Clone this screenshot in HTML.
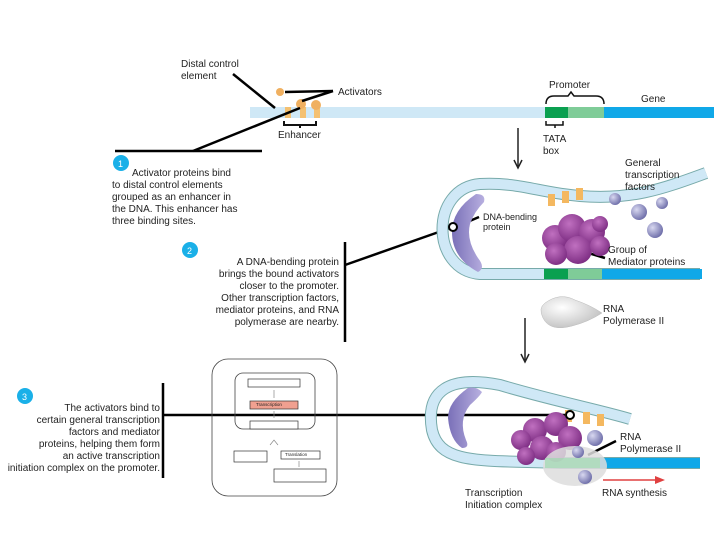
<!DOCTYPE html>
<html><head><meta charset="utf-8"><style>
html,body{margin:0;padding:0;background:#fff;}
svg{display:block;font-family:"Liberation Sans",sans-serif;}
</style></head><body>
<svg width="720" height="540" viewBox="0 0 720 540" xmlns="http://www.w3.org/2000/svg">
<defs>
<radialGradient id="pu" cx="0.4" cy="0.35" r="0.7"><stop offset="0" stop-color="#c070c0"/><stop offset="1" stop-color="#7a2a80"/></radialGradient>
<radialGradient id="bl" cx="0.35" cy="0.35" r="0.7"><stop offset="0" stop-color="#d8d8f0"/><stop offset="1" stop-color="#6c6ca8"/></radialGradient>
<radialGradient id="gr" cx="0.35" cy="0.35" r="0.8"><stop offset="0" stop-color="#ffffff"/><stop offset="1" stop-color="#b8b8b8"/></radialGradient>
<linearGradient id="vp" x1="0" x2="1"><stop offset="0" stop-color="#7a70b8"/><stop offset="1" stop-color="#b8b0e0"/></linearGradient>
</defs>
<g font-size="10" fill="#222">
<rect x="250" y="107" width="295" height="11" fill="#cfe8f6"/>
<rect x="545" y="107" width="23" height="11" fill="#0aa050"/>
<rect x="568" y="107" width="36" height="11" fill="#7fcc98"/>
<rect x="604" y="107" width="110" height="11" fill="#10a8e8"/>
<rect x="285" y="107" width="6" height="11" fill="#f4c070"/><rect x="300" y="107" width="6" height="11" fill="#f4c070"/><rect x="314" y="107" width="6" height="11" fill="#f4c070"/>
<circle cx="280" cy="92" r="4" fill="#f0b060"/><circle cx="301" cy="104" r="5" fill="#f0b060"/><circle cx="316" cy="105" r="5" fill="#f0b060"/>
<path d="M284 121 v4 h32 v-4 M300 125 v3" fill="none" stroke="#111" stroke-width="2"/>
<path d="M546 104 q0-8 8-8 h14 l3-4 l3 4 h22 q8 0 8 8" fill="none" stroke="#111" stroke-width="1.5"/>
<path d="M546 121 v4 h17 v-4 M555 125 v3" fill="none" stroke="#111" stroke-width="1.5"/>
<text x="181" y="67">Distal control</text><text x="181" y="79">element</text>
<text x="338" y="95">Activators</text>
<text x="549" y="88">Promoter</text>
<text x="641" y="102">Gene</text>
<text x="278" y="138">Enhancer</text>
<text x="543" y="142">TATA</text><text x="543" y="154">box</text>
<g stroke="#000" stroke-width="2.5" fill="none">
<line x1="233" y1="74" x2="275" y2="108"/>
<line x1="285" y1="92" x2="333" y2="91"/><line x1="302" y1="101" x2="333" y2="91"/>
<line x1="115" y1="151" x2="262" y2="151"/><line x1="193" y1="151" x2="300" y2="108"/>
<line x1="345" y1="242" x2="345" y2="342"/><line x1="345" y1="265" x2="453" y2="227"/>
<line x1="163" y1="383" x2="163" y2="478"/><line x1="163" y1="415" x2="570" y2="415"/>
<line x1="465" y1="223" x2="479" y2="217"/>
<line x1="585" y1="252" x2="605" y2="258"/>
<line x1="588" y1="455" x2="616" y2="441"/>
</g>
<line x1="518" y1="128" x2="518" y2="166" stroke="#222" stroke-width="1.5"/><path d="M514 160 L518 168 L522 160" fill="none" stroke="#222" stroke-width="1.5"/>
<line x1="525" y1="318" x2="525" y2="360" stroke="#222" stroke-width="1.5"/><path d="M521 354 L525 362 L529 354" fill="none" stroke="#222" stroke-width="1.5"/>
<circle cx="121" cy="163" r="8" fill="#1ab0e8"/><text x="118" y="167" fill="#fff" font-size="9">1</text>
<text x="132" y="176">Activator proteins bind</text>
<text x="112" y="188">to distal control elements</text>
<text x="112" y="200">grouped as an enhancer in</text>
<text x="112" y="212">the DNA. This enhancer has</text>
<text x="112" y="224">three binding sites.</text>
<circle cx="190" cy="250" r="8" fill="#1ab0e8"/><text x="187" y="254" fill="#fff" font-size="9">2</text>
<g text-anchor="end">
<text x="339" y="265">A DNA-bending protein</text>
<text x="339" y="277">brings the bound activators</text>
<text x="339" y="289">closer to the promoter.</text>
<text x="339" y="301">Other transcription factors,</text>
<text x="339" y="313">mediator proteins, and RNA</text>
<text x="339" y="325">polymerase are nearby.</text>
<text x="160" y="411">The activators bind to</text>
<text x="160" y="423">certain general transcription</text>
<text x="160" y="435">factors and mediator</text>
<text x="160" y="447">proteins, helping them form</text>
<text x="160" y="459">an active transcription</text>
<text x="160" y="471">initiation complex on the promoter.</text>
</g>
<circle cx="25" cy="396" r="8" fill="#1ab0e8"/><text x="22" y="400" fill="#fff" font-size="9">3</text>
<!-- middle DNA loop -->
<path d="M706 173 C660 190 630 200 580 196 C540 193 520 182 480 184 C430 188 430 270 480 274 L700 274" fill="none" stroke="#7aa" stroke-width="12"/>
<path d="M706 173 C660 190 630 200 580 196 C540 193 520 182 480 184 C430 188 430 270 480 274 L700 274" fill="none" stroke="#cfe8f6" stroke-width="10"/>
<rect x="544" y="269" width="24" height="10" fill="#0aa050"/><rect x="568" y="269" width="34" height="10" fill="#7fcc98"/><rect x="602" y="269" width="100" height="10" fill="#10a8e8"/>
<path d="M476 194 Q452 210 452 232 Q452 258 478 272 Q486 268 478 258 Q466 240 470 224 Q474 212 484 202 Q486 194 476 194Z" fill="url(#vp)"/>
<circle cx="453" cy="227" r="4" fill="#fff" stroke="#000" stroke-width="2"/>
<g fill="#f4b860"><rect x="548" y="194" width="7" height="12"/><rect x="562" y="191" width="7" height="12"/><rect x="576" y="188" width="7" height="12"/></g>
<g fill="url(#pu)"><circle cx="555" cy="238" r="13"/><circle cx="572" cy="228" r="14"/><circle cx="592" cy="232" r="13"/><circle cx="578" cy="250" r="14"/><circle cx="556" cy="254" r="11"/><circle cx="600" cy="246" r="10"/><circle cx="600" cy="224" r="8"/></g>
<g fill="url(#bl)"><circle cx="615" cy="199" r="6"/><circle cx="639" cy="212" r="8"/><circle cx="662" cy="203" r="6"/><circle cx="655" cy="230" r="8"/></g>
<text x="483" y="220" font-size="9">DNA-bending</text><text x="483" y="230" font-size="9">protein</text>
<text x="625" y="166">General</text><text x="625" y="178">transcription</text><text x="625" y="190">factors</text>
<text x="608" y="253">Group of</text><text x="608" y="265">Mediator proteins</text>
<path d="M545 303 Q560 292 575 300 Q590 305 602 313 Q588 322 572 326 Q550 332 543 318 Q538 308 545 303Z" fill="url(#gr)" stroke="#bbb" stroke-width="0.5"/>
<text x="603" y="312">RNA</text><text x="603" y="324">Polymerase II</text>
<!-- bottom complex -->
<path d="M630 419 C600 410 550 400 500 385 C450 375 425 390 432 430 C440 465 480 460 560 463 L700 463" fill="none" stroke="#7aa" stroke-width="12"/>
<path d="M630 419 C600 410 550 400 500 385 C450 375 425 390 432 430 C440 465 480 460 560 463 L700 463" fill="none" stroke="#cfe8f6" stroke-width="10"/>
<rect x="600" y="458" width="100" height="10" fill="#10a8e8"/>
<path d="M468 388 Q448 402 448 418 Q450 440 462 448 Q470 448 466 440 Q458 420 470 405 Q480 396 482 392 Q476 386 468 388Z" fill="url(#vp)"/>
<g fill="#f4b860"><rect x="565" y="410" width="7" height="12"/><rect x="583" y="412" width="7" height="12"/><rect x="597" y="414" width="7" height="12"/></g>
<g fill="url(#pu)"><circle cx="535" cy="430" r="12"/><circle cx="556" cy="424" r="12"/><circle cx="570" cy="438" r="12"/><circle cx="542" cy="448" r="12"/><circle cx="521" cy="440" r="10"/><circle cx="526" cy="456" r="9"/><circle cx="556" cy="452" r="10"/></g>
<ellipse cx="575" cy="466" rx="32" ry="20" fill="#ddd" opacity="0.85"/>
<rect x="545" y="458" width="55" height="10" fill="#a0d8b0" opacity="0.7"/>
<g fill="url(#bl)"><circle cx="595" cy="438" r="8"/><circle cx="578" cy="452" r="6"/><circle cx="585" cy="477" r="7"/></g>
<circle cx="570" cy="415" r="4" fill="#fff" stroke="#000" stroke-width="2"/>
<text x="620" y="440">RNA</text><text x="620" y="452">Polymerase II</text>
<line x1="603" y1="480" x2="660" y2="480" stroke="#e04040" stroke-width="1.5"/><path d="M655 476 L665 480 L655 484Z" fill="#e04040"/>
<text x="602" y="496">RNA synthesis</text>
<text x="465" y="496">Transcription</text><text x="465" y="508">Initiation complex</text>
<!-- inset flow box -->
<rect x="212" y="359" width="125" height="137" rx="16" fill="none" stroke="#444" stroke-width="0.8"/>
<rect x="235" y="373" width="80" height="56" rx="8" fill="none" stroke="#444" stroke-width="0.8"/>
<g stroke="#333" stroke-width="0.7">
<rect x="248" y="379" width="52" height="8" fill="#fff"/><rect x="250" y="401" width="48" height="8" fill="#f0a090"/><rect x="250" y="421" width="48" height="8" fill="#fff"/>
<rect x="234" y="451" width="33" height="11" fill="#fff"/><rect x="281" y="451" width="39" height="8" fill="#fff"/><rect x="274" y="469" width="52" height="13" fill="#fff"/>
<path d="M274 390 v8 M274 411 v7 M270 445 l4-5 l4 5 M299 461 v6" fill="none" stroke="#888"/>
</g>
<text x="256" y="406" font-size="4.5">Transcription</text>
<text x="285" y="456" font-size="4.5">Translation</text>
</g>
</svg>
</body></html>
